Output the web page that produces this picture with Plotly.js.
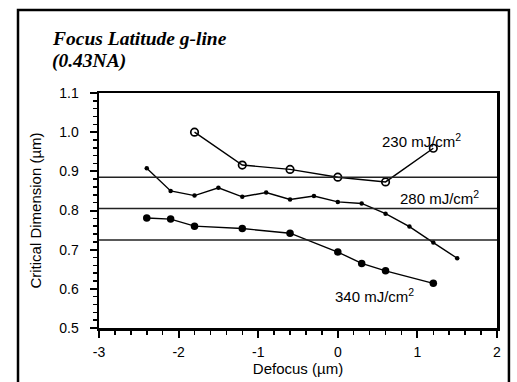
<!DOCTYPE html>
<html>
<head>
<meta charset="utf-8">
<script src="https://cdn.plot.ly/plotly-3.0.1.min.js"></script>
<style>html,body{margin:0;padding:0;background:#fff;}#chart{width:517px;height:382px;}</style>
</head>
<body>
<div id="chart"></div>
<script>
// Data
const x230 = [-1.8, -1.2, -0.6, 0.0, 0.6, 1.2];
const y230 = [1.000, 0.916, 0.905, 0.885, 0.873, 0.959];

const x280 = [-2.4, -2.1, -1.8, -1.5, -1.2, -0.9, -0.6, -0.3, 0.0, 0.3, 0.6, 0.9, 1.2, 1.5];
const y280 = [0.908, 0.850, 0.838, 0.858, 0.835, 0.846, 0.828, 0.837, 0.822, 0.818, 0.792, 0.759, 0.718, 0.678];

const x340 = [-2.4, -2.1, -1.8, -1.2, -0.6, 0.0, 0.3, 0.6, 1.2];
const y340 = [0.781, 0.778, 0.760, 0.754, 0.742, 0.694, 0.665, 0.646, 0.614];

const refLines = [0.885, 0.805, 0.725];
const seriesLabels = ['230 mJ/cm<sup>2</sup>', '280 mJ/cm<sup>2</sup>', '340 mJ/cm<sup>2</sup>'];
const labelX = [0.53, 0.756, -0.06];
const labelY = [0.978, 0.834, 0.582];
const titleLines = ['Focus Latitude g-line', '(0.43NA)'];
const xTicks = [-3, -2, -1, 0, 1, 2];
const yTicks = [0.5, 0.6, 0.7, 0.8, 0.9, 1.0, 1.1];
const yTickText = ['0.5', '0.6', '0.7', '0.8', '0.9', '1.0', '1.1'];

const sans = 'Liberation Sans, Arial, Helvetica, sans-serif';
const lineStyle = {color: '#000', width: 1.4};
const traces = [
  {x: x230, y: y230, mode: 'lines+markers', line: lineStyle,
   marker: {symbol: 'circle-open', size: 7.5, color: '#000', line: {width: 1.7, color: '#000'}}},
  {x: x280, y: y280, mode: 'lines+markers', line: lineStyle,
   marker: {symbol: 'circle', size: 4.5, color: '#000'}},
  {x: x340, y: y340, mode: 'lines+markers', line: lineStyle,
   marker: {symbol: 'circle', size: 7.5, color: '#000'}}
];

const shapes = refLines.map(v => ({type: 'line', xref: 'paper', yref: 'y', x0: 0, x1: 1, y0: v, y1: v,
  line: {color: '#222', width: 1.5}}));
// outer frame
shapes.push({type: 'rect', xref: 'paper', yref: 'paper', x0: -0.2035, x1: 1.030, y0: -0.24, y1: 1.353,
  line: {color: '#000', width: 2.5}, layer: 'below'});

const annotations = seriesLabels.map((t, i) => ({x: labelX[i], y: labelY[i], xref: 'x', yref: 'y',
  text: t, showarrow: false, xanchor: 'left', yanchor: 'middle', align: 'left',
  font: {family: sans, size: 15, color: '#000'}}));
const titleY = [1.234, 1.136];
titleLines.forEach((t, i) => annotations.push({xref: 'paper', yref: 'paper', x: -0.1235, y: titleY[i],
  xanchor: 'left', yanchor: 'middle', align: 'left', text: t, showarrow: false,
  font: {family: 'Liberation Serif', size: 19.5, color: '#000', weight: 'bold', style: 'italic'}}));

const layout = {
  width: 517, height: 382,
  margin: {l: 99, r: 20, t: 93, b: 54},
  paper_bgcolor: '#fff', plot_bgcolor: '#fff',
  showlegend: false,
  font: {family: sans, color: '#000'},
  xaxis: {
    range: [-3, 2], tickvals: xTicks, ticktext: xTicks.map(String),
    ticks: 'outside', ticklen: 7, tickwidth: 2, tickcolor: '#000',
    minor: {dtick: 0.2, ticks: 'outside', ticklen: 4, tickwidth: 1.5, tickcolor: '#000'},
    showline: true, linecolor: '#000', linewidth: 2.5, mirror: true,
    showgrid: false, zeroline: false,
    tickfont: {family: sans, size: 14, color: '#000'},
    ticklabelstandoff: 3,
    title: {text: 'Defocus (µm)', font: {family: sans, size: 15, color: '#000'}, standoff: 3}
  },
  yaxis: {
    range: [0.5, 1.1], tickvals: yTicks, ticktext: yTickText,
    ticks: 'outside', ticklen: 7, tickwidth: 2, tickcolor: '#000',
    minor: {dtick: 0.02, ticks: 'outside', ticklen: 4, tickwidth: 1.5, tickcolor: '#000'},
    showline: true, linecolor: '#000', linewidth: 2.5, mirror: true,
    showgrid: false, zeroline: false,
    tickfont: {family: sans, size: 14, color: '#000'},
    ticklabelstandoff: 8,
    title: {text: 'Critical Dimension (µm)', font: {family: sans, size: 15, color: '#000'}, standoff: 14}
  },
  shapes: shapes,
  annotations: annotations
};

Plotly.newPlot('chart', traces, layout, {displayModeBar: false, staticPlot: true});
</script>
</body>
</html>
